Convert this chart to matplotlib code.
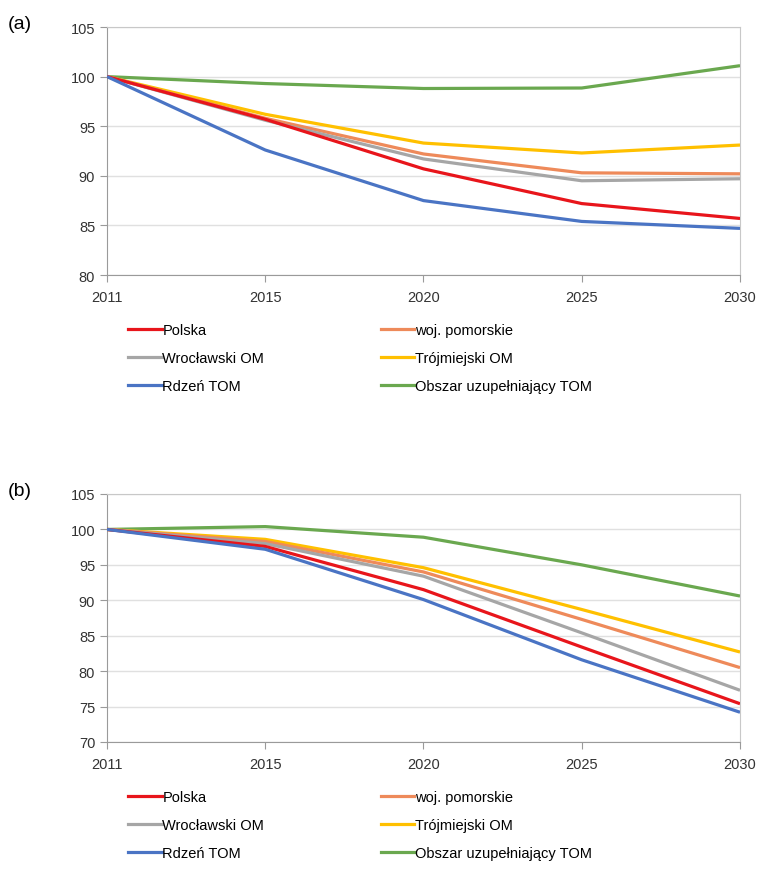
import numpy as np
import matplotlib.pyplot as plt
from matplotlib.lines import Line2D

plt.rcParams['font.family'] = ['Liberation Sans', 'DejaVu Sans']

years = ['2011', '2015', '2020', '2025', '2030']
names = ['Polska', 'woj. pomorskie', 'Wrocławski OM', 'Trójmiejski OM', 'Rdzeń TOM', 'Obszar uzupełniający TOM']
colors = ['#e8151b', '#ee8a5a', '#a6a6a6', '#ffc000', '#4a74c4', '#6aa84f']

# panel (a)
a_polska = [100, 95.7, 90.7, 87.2, 85.7]
a_pomorskie = [100, 95.8, 92.2, 90.3, 90.2]
a_wroclaw = [100, 95.6, 91.7, 89.5, 89.7]
a_trojm = [100, 96.2, 93.3, 92.3, 93.1]
a_rdzen = [100, 92.6, 87.5, 85.4, 84.7]
a_obszar = [100, 99.3, 98.8, 98.85, 101.1]

# panel (b)
b_polska = [100, 97.6, 91.5, 83.4, 75.4]
b_pomorskie = [100, 98.3, 94.0, 87.3, 80.5]
b_wroclaw = [100, 98.0, 93.4, 85.4, 77.3]
b_trojm = [100, 98.6, 94.6, 88.7, 82.7]
b_rdzen = [100, 97.2, 90.1, 81.6, 74.2]
b_obszar = [100, 100.4, 98.9, 95.0, 90.6]

fig = plt.figure(figsize=(7.65, 8.95), dpi=100)

def panel(rect, series, ylo, label, legtop):
    ax = fig.add_axes(rect)
    x = np.arange(len(years))
    # draw order: green first, then others
    order = [5, 3, 1, 2, 0, 4]
    for i in order:
        ax.plot(x, series[i], color=colors[i], lw=2.3, solid_capstyle='butt', zorder=3)
    ax.set_xlim(0, 4)
    ax.set_ylim(ylo, 105)
    ax.set_yticks(np.arange(ylo, 106, 5))
    ax.set_xticks(x)
    ax.set_xticklabels(years)
    ax.grid(axis='y', color='#e0e0e0', lw=1)
    ax.set_axisbelow(True)
    for s in ['left', 'bottom']:
        ax.spines[s].set_color('#9a9a9a')
    for s in ['top', 'right']:
        ax.spines[s].set_color('#c8c8c8')
    ax.tick_params(axis='both', colors='#9a9a9a', labelcolor='#333333', labelsize=10.5, length=5)
    ax.tick_params(axis='x', pad=6)
    fig.text(8/765, rect[1] + rect[3] + 0.004, label, fontsize=14, va='center', ha='left')
    lorder = [0, 2, 4, 1, 3, 5]
    handles = [Line2D([], [], color=colors[i], lw=2.3) for i in lorder]
    fig.legend(handles, [names[i] for i in lorder], ncol=2, loc='upper left',
               bbox_to_anchor=(128/765, legtop), frameon=False, fontsize=10.5,
               handlelength=2.3, handletextpad=0.05, columnspacing=8.0,
               labelspacing=0.95, borderpad=0, borderaxespad=0)
    return ax

panel([107/765, 1 - 276/895, 633/765, 248/895],
      [a_polska, a_pomorskie, a_wroclaw, a_trojm, a_rdzen, a_obszar], 80, '(a)', 1 - 324/895)
panel([107/765, 1 - 743/895, 633/765, 248/895],
      [b_polska, b_pomorskie, b_wroclaw, b_trojm, b_rdzen, b_obszar], 70, '(b)', 1 - 791/895)

fig.savefig('out.png', dpi=100)
